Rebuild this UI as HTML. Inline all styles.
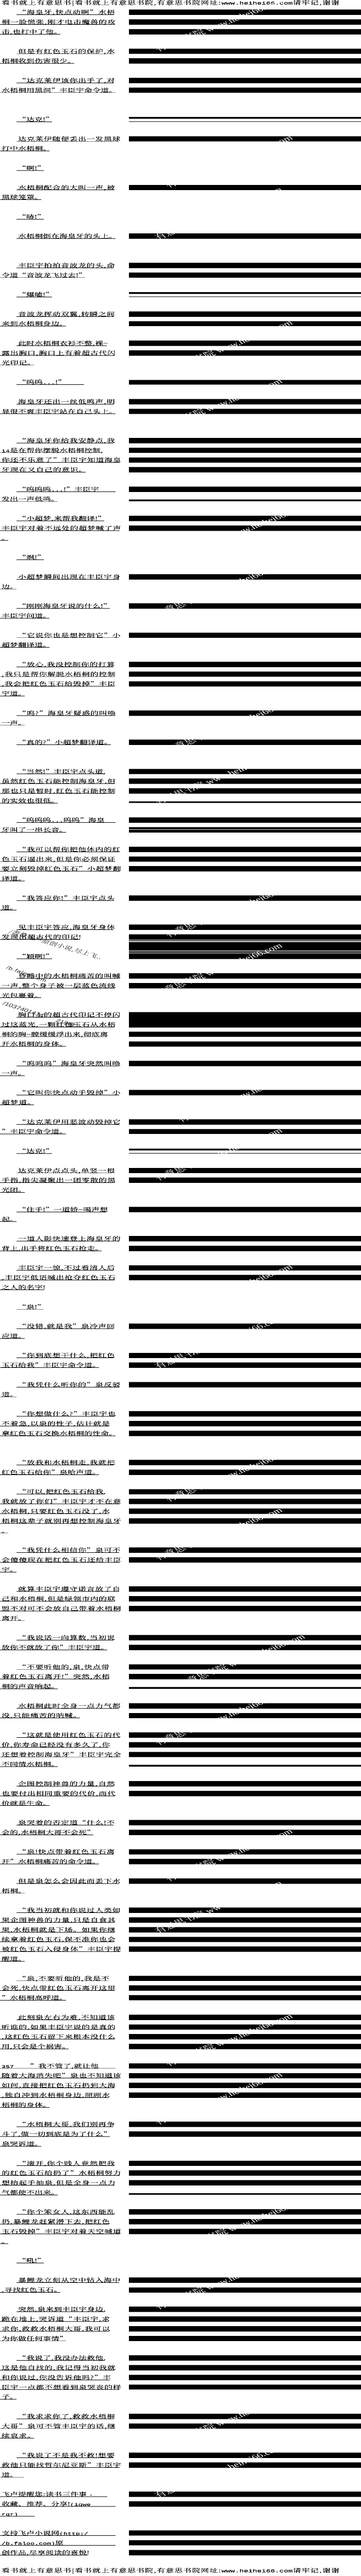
<!DOCTYPE html>
<html lang="zh-CN">
<head>
<meta charset="utf-8">
<title>有意思书院</title>
<style>
html,body{margin:0;padding:0;background:#fff}
html,body{height:5000px;overflow:hidden}
body{position:relative;width:700px}
#t,#o{transform:scale(1,.62972);transform-origin:0 0}
#t{position:absolute;left:0;top:0;width:700px;height:7940px;background:#fff;color:#000;font:16px/15px "Noto Serif CJK SC","Noto Sans CJK SC",serif;overflow:hidden}
.k{position:absolute;left:0;width:700px;height:960px;background:#fff;filter:url(#bw)}
.r{display:block;position:relative;height:30px!important;margin:0!important;padding:0!important}
u{display:inline-block;position:relative;box-sizing:border-box;height:16px;line-height:15px;padding-left:3px;text-decoration:none;white-space:nowrap;vertical-align:top}
u:after{content:"";position:absolute;left:0;right:3px;top:15px;height:1px;background:#000}
.a,.b{margin-left:32px}
.b,.c{letter-spacing:.6px}
s{text-decoration:none;font:13.33px/15px "Liberation Mono",monospace;letter-spacing:0}
b{position:absolute;left:250px;width:450px;top:0;height:16px;background:#000}
.h{position:absolute;left:0;width:700px;height:20px;padding-left:3px;box-sizing:border-box;background:#fff;white-space:nowrap;letter-spacing:1px;line-height:16px;font-size:16px;filter:url(#bw)}
.h s{font-size:14.4px;line-height:16px;letter-spacing:0}
#o{position:absolute;left:0;top:0}
</style>
</head>
<body>
<svg width="0" height="0" style="position:absolute"><filter id="bw" x="0" y="0" width="100%" height="100%" color-interpolation-filters="sRGB"><feComponentTransfer><feFuncR type="discrete" tableValues="0 0 0 0 1"/><feFuncG type="discrete" tableValues="0 0 0 0 1"/><feFuncB type="discrete" tableValues="0 0 0 0 1"/></feComponentTransfer></filter></svg>
<div id="t">
<div class="k" style="top:0">
<div class="r"></div>
<div class="r"><u class="b">“海皇牙,快点动啊”水梧</u><b></b></div>
<div class="r"><u class="c">桐一脸慌张,刚才电击魔兽的攻</u><b></b></div>
<div class="r"><u>击,也打中了他。</u><b></b></div>
<div class="r"></div>
<div class="r"><u class="b">但是有红色玉石的保护,水</u><b></b></div>
<div class="r"><u>梧桐收到伤害很少。</u><b></b></div>
<div class="r"></div>
<div class="r"><u class="b">“达克莱伊该你出手了,对</u><b></b></div>
<div class="r"><u>水梧桐用黑洞”丰臣宇命令道。</u><b></b></div>
<div class="r"></div>
<div class="r"></div>
<div class="r"><u class="a">“达克!”</u><b style="top:1px;height:5px"></b><b style="top:14px;height:1px"></b></div>
<div class="r"></div>
<div class="r"><u class="b">达克莱伊随便丢出一发黑球</u><b></b></div>
<div class="r"><u>打中水梧桐。</u></div>
<div class="r"></div>
<div class="r"><u class="a">“啊!”</u></div>
<div class="r"></div>
<div class="r"><u class="b">水梧桐配合的大叫一声,被</u><b></b></div>
<div class="r"><u>黑球笼罩。</u></div>
<div class="r"></div>
<div class="r"><u class="a">“哧!”</u></div>
<div class="r"></div>
<div class="r"><u class="a">水梧桐倒在海皇牙的头上。</u><b></b></div>
<div class="r"></div>
<div class="r"></div>
<div class="r"><u class="b">丰臣宇拍拍音波龙的头,命</u><b></b></div>
<div class="r"><u>令道“音波龙飞过去!”</u><b></b></div>
<div class="r"></div>
<div class="r"><u class="a">“爆嗑!”</u><b style="top:1px;height:5px"></b><b style="top:14px;height:1px"></b></div>
<div class="r"></div>
</div>
<div class="k" style="top:960px">
<div class="r"><u class="b">音波龙挥动双翼,转瞬之间</u><b></b></div>
<div class="r"><u>来到水梧桐身边。</u><b style="height:15px"></b></div>
<div class="r"></div>
<div class="r"><u class="a">此时水梧桐衣衫不整,裸~</u><b></b></div>
<div class="r"><u class="c">露出胸口,胸口上有着超古代闪</u><b></b></div>
<div class="r"><u class="c">光印记。</u></div>
<div class="r"></div>
<div class="r"><u class="a" style="width:134px">“呜呜<s>...</s>!”</u><b style="top:1px;height:14px"></b></div>
<div class="r"></div>
<div class="r"><u class="b">海皇牙还出一丝低鸣声,明</u><b></b></div>
<div class="r"><u>显很不爽丰臣宇站在自己头上。</u><b></b></div>
<div class="r"></div>
<div class="r"></div>
<div class="r"><u class="b">“海皇牙你给我安静点,我</u><b></b></div>
<div class="r"><u><s>14</s>是在帮你摆脱水梧桐控制,</u><b></b></div>
<div class="r"><u class="c">你还不乐意了”丰臣宇知道海皇</u><b></b></div>
<div class="r"><u class="c">牙现在又自己的意识。</u><b></b></div>
<div class="r"></div>
<div class="r"><u class="a" style="width:195px">“呜呜呜<s>...</s>!”丰臣宇</u><b></b></div>
<div class="r"><u>发出一声低鸣。</u><b style="top:10px;height:5px"></b></div>
<div class="r"></div>
<div class="r"><u class="a">“小超梦,来帮我翻译!”</u><b></b></div>
<div class="r"><u class="c">丰臣宇对着不远处的超梦喊了声</u><b></b></div>
<div class="r"><u>。</u></div>
<div class="r"></div>
<div class="r"><u class="a">“飒!”</u></div>
<div class="r"></div>
<div class="r"><u class="b">小超梦瞬间出现在丰臣宇身</u><b></b></div>
<div class="r"><u>边。</u></div>
<div class="r"></div>
<div class="r"><u class="a">“刚刚海皇牙说的什么!”</u><b></b></div>
<div class="r"><u>丰臣宇问道。</u></div>
</div>
<div class="k" style="top:1920px">
<div class="r"></div>
<div class="r"><u class="b">“它说你也是想控制它”小</u><b></b></div>
<div class="r"><u>超梦翻译道。</u></div>
<div class="r"></div>
<div class="r"><u class="b">“放心,我没控制你的打算</u><b></b></div>
<div class="r"><u class="c">,我只是帮你解脱水梧桐的控制</u><b></b></div>
<div class="r"><u class="c">,我会把红色玉石给毁掉”丰臣</u><b></b></div>
<div class="r"><u>宇道。</u></div>
<div class="r"></div>
<div class="r"><u class="b">“呜?”海皇牙疑惑的叫唤</u><b></b></div>
<div class="r"><u>一声。</u></div>
<div class="r"></div>
<div class="r"><u class="a">“真的?”小超梦翻译道。</u><b></b></div>
<div class="r"></div>
<div class="r"></div>
<div class="r"><u class="a">“当然!”丰臣宇点头道,</u><b></b></div>
<div class="r"><u class="c">虽然红色玉石能控制海皇牙,但</u><b></b></div>
<div class="r"><u class="c">那也只是暂时,红色玉石能控制</u><b></b></div>
<div class="r"><u>的实效也很低。</u><b style="top:10px;height:5px"></b></div>
<div class="r"></div>
<div class="r"><u class="a" style="width:195px">“呜呜呜<s>...</s>呜呜”海皇</u><b></b></div>
<div class="r"><u>牙叫了一串长音。</u><b style="top:0;height:3px"></b><b style="top:4px;height:2px"></b><b style="top:8px;height:8px"></b></div>
<div class="r"></div>
<div class="r"><u class="b">“我可以帮你把他体内的红</u><b></b></div>
<div class="r"><u class="c">色玉石逼出来,但是你必须保证</u><b></b></div>
<div class="r"><u class="c">要立刻毁掉红色玉石”小超梦翻</u><b></b></div>
<div class="r"><u>译道。</u></div>
<div class="r"></div>
<div class="r"><u class="b">“我答应你!”丰臣宇点头</u><b></b></div>
<div class="r"><u>道。</u></div>
<div class="r"></div>
<div class="r"><u class="b">见丰臣宇答应,海皇牙身体</u><b></b></div>
</div>
<div class="k" style="top:2880px">
<div class="r"><u class="c">发现出超古代的印记!</u><b></b><b style="top:18px;height:2px"></b></div>
<div class="r"><b style="top:-6px;height:26px"></b><b style="top:22px;height:1px"></b><b style="top:24px;height:3px"></b></div>
<div class="r"><u class="a">“颖啊!”</u><b style="top:-1px;height:17px"></b></div>
<div class="r"></div>
<div class="r"><u class="b">昏睡中的水梧桐痛苦的叫喊</u><b></b></div>
<div class="r"><u class="c">一声,整个身子被一层蓝色流线</u><b></b></div>
<div class="r"><u>光包裹着。</u></div>
<div class="r"></div>
<div class="r"><u class="b">胸口上的超古代印记不停闪</u><b style="height:47px"></b></div>
<div class="r"><u class="c">过这蓝光,一颗红色玉石从水梧</u></div>
<div class="r"><u>桐的胸~膛缓缓浮出来,彻底离</u><b></b></div>
<div class="r"><u>开水梧桐的身体。</u><b></b></div>
<div class="r"></div>
<div class="r"><u class="b">“呜呜呜”海皇牙突然叫唤</u><b></b></div>
<div class="r"><u>一声。</u></div>
<div class="r"></div>
<div class="r"><u class="b">“它叫你快点动手毁掉”小</u><b></b></div>
<div class="r"><u class="c">超梦道。</u></div>
<div class="r"></div>
<div class="r"><u class="b">“达克莱伊用恶波动毁掉它</u><b></b></div>
<div class="r"><u>”丰臣宇命令道。</u><b style="height:15px"></b></div>
<div class="r"></div>
<div class="r"><u class="a">“达克!”</u><b style="top:1px;height:5px"></b><b style="top:14px;height:1px"></b></div>
<div class="r"></div>
<div class="r"><u class="b">达克莱伊点点头,单竖一根</u><b></b></div>
<div class="r"><u class="c">手指,指尖凝聚出一团零散的黑</u><b></b></div>
<div class="r"><u>光团。</u></div>
<div class="r"></div>
<div class="r"><u class="a">“住手!”一道娇~喝声想</u><b></b></div>
<div class="r"><u>起。</u></div>
<div class="r"></div>
<div class="r"><u class="b">一道人影快速登上海皇牙的</u><b></b></div>
</div>
<div class="k" style="top:3840px">
<div class="r"><u>背上,出手将红色玉石抢走。</u><b></b></div>
<div class="r"></div>
<div class="r"><u class="b">丰臣宇一惊,不过看清人后</u><b></b></div>
<div class="r"><u class="c">,丰臣宇低语喊出抢夺红色玉石</u><b></b></div>
<div class="r"><u>之人的名字!</u></div>
<div class="r"></div>
<div class="r"><u class="a">“泉!”</u></div>
<div class="r"></div>
<div class="r"><u class="b">“没错,就是我”泉冷声回</u><b></b></div>
<div class="r"><u>应道。</u></div>
<div class="r"></div>
<div class="r"><u class="b">“你到底想干什么,把红色</u><b></b></div>
<div class="r"><u>玉石给我”丰臣宇命令道。</u><b></b></div>
<div class="r"></div>
<div class="r"><u class="b">“我凭什么听你的”泉反驳</u><b></b></div>
<div class="r"><u>道。</u></div>
<div class="r"></div>
<div class="r"><u class="b">“你想做什么?”丰臣宇也</u><b></b></div>
<div class="r"><u class="c">不着急,以泉的性子,估计就是</u><b></b></div>
<div class="r"><u>拿红色玉石交换水梧桐的性命。</u><b></b></div>
<div class="r"></div>
<div class="r"></div>
<div class="r"><u class="b">“放我和水梧桐走,我就把</u><b></b></div>
<div class="r"><u>红色玉石给你”泉哈声道。</u><b></b></div>
<div class="r"></div>
<div class="r"><u class="a">“可以,把红色玉石给我,</u><b></b></div>
<div class="r"><u class="c">我就放了你们”丰臣宇才不在意</u><b></b></div>
<div class="r"><u class="c">水梧桐,只要红色玉石没了,水</u><b></b></div>
<div class="r"><u class="c">梧桐这辈子就别再想控制海皇牙</u><b></b></div>
<div class="r"><u>。</u></div>
<div class="r"></div>
<div class="r"><u class="b">“我凭什么相信你”泉可不</u><b></b></div>
</div>
<div class="k" style="top:4800px">
<div class="r"><u class="c">会傻傻现在把红色玉石还给丰臣</u><b></b></div>
<div class="r"><u>宇。</u></div>
<div class="r"></div>
<div class="r"><u class="b">就算丰臣宇遵守诺言放了自</u><b></b></div>
<div class="r"><u class="c">己和水梧桐,但是绿领市内的联</u><b></b></div>
<div class="r"><u class="c">盟不对可不会放自己带着水梧桐</u><b></b></div>
<div class="r"><u>离开。</u></div>
<div class="r"></div>
<div class="r"><u class="b">“我说话一向算数,当初说</u><b></b></div>
<div class="r"><u>放你不就放了你”丰臣宇道。</u><b></b></div>
<div class="r"></div>
<div class="r"><u class="b">“不要听他的,泉,快点带</u><b></b></div>
<div class="r"><u class="c">着红色玉石离开!”突然,水梧</u><b></b></div>
<div class="r"><u>桐的声音响起。</u><b style="top:10px;height:5px"></b></div>
<div class="r"></div>
<div class="r"><u class="b">水梧桐此时全身一点力气都</u><b></b></div>
<div class="r"><u class="c">没,只能痛苦的呐喊。</u><b></b></div>
<div class="r"></div>
<div class="r"><u class="b">“这就是使用红色玉石的代</u><b></b></div>
<div class="r"><u class="c">价,你寿命已经没有多久了,你</u><b></b></div>
<div class="r"><u class="c">还想着控制海皇牙”丰臣宇完全</u><b></b></div>
<div class="r"><u>不同情水梧桐。</u><b style="top:10px;height:5px"></b></div>
<div class="r"></div>
<div class="r"><u class="b">企图控制神兽的力量,自然</u><b></b></div>
<div class="r"><u class="c">也要付出相同重要的代价,而代</u><b></b></div>
<div class="r"><u>价就是生命。</u></div>
<div class="r"></div>
<div class="r"><u class="b">泉哭着的否定道“什么!不</u><b></b></div>
<div class="r"><u>会的,水梧桐大哥不会死”</u><b></b></div>
<div class="r"></div>
<div class="r"><u class="b">“泉!快点带着红色玉石离</u><b></b></div>
<div class="r"><u>开”水梧桐痛苦的命令道。</u><b></b></div>
</div>
<div class="k" style="top:5760px">
<div class="r"></div>
<div class="r"><u class="b">但是泉怎么会因此而丢下水</u><b></b></div>
<div class="r"><u>梧桐。</u></div>
<div class="r"></div>
<div class="r"><u class="b">“我当初就和你说过人类如</u><b></b></div>
<div class="r"><u class="c">果企图神兽的力量,只是自食其</u><b></b></div>
<div class="r"><u class="c">果,水梧桐就是下场。如果你继</u><b></b></div>
<div class="r"><u class="c">续拿着红色玉石,保不准你也会</u><b></b></div>
<div class="r"><u class="c">被红色玉石入侵身体”丰臣宇提</u><b></b></div>
<div class="r"><u>醒道。</u></div>
<div class="r"></div>
<div class="r"><u class="b">“泉,不要听他的,我是不</u><b></b></div>
<div class="r"><u class="c">会死,快点带红色玉石离开这里</u><b></b></div>
<div class="r"><u>”水梧桐高呼道。</u><b style="height:15px"></b></div>
<div class="r"></div>
<div class="r"><u class="b">此刻泉左右为难,不知道该</u><b></b></div>
<div class="r"><u class="c">听谁的,如果丰臣宇说的是真的</u><b></b></div>
<div class="r"><u class="c">,这红色玉石留下来根本没什么</u><b></b></div>
<div class="r"><u>用,只会是个祸害。</u><b></b></div>
<div class="r"></div>
<div class="r"><u style="width:227px"><s>357</s><span style="margin-left:31px">”我不管了,就让他</span></u><b></b></div>
<div class="r"><u class="c">随着大海消失吧”泉也不知道该</u><b></b></div>
<div class="r"><u class="c">如何,直接把红色玉石扔到大海</u><b></b></div>
<div class="r"><u class="c">,独自冲到水梧桐身边,照顾水</u><b></b></div>
<div class="r"><u>梧桐的身体。</u></div>
<div class="r"></div>
<div class="r"><u class="b">“水梧桐大哥,我们别再争</u><b></b></div>
<div class="r"><u>斗了,做一切到底是为了什么”</u><b></b></div>
<div class="r"><u>泉哭诉道。</u></div>
<div class="r"></div>
<div class="r"><u class="b">“滚开,你个贱人竟然把我</u><b></b></div>
<div class="r"><u class="c">的红色玉石给扔了”水梧桐努力</u><b></b></div>
</div>
<div class="k" style="top:6720px">
<div class="r"><u class="c">想抬起手抽泉,但是全身一点力</u><b></b></div>
<div class="r"><u>气都使不出来。</u><b style="top:10px;height:5px"></b></div>
<div class="r"></div>
<div class="r"><u class="b">“你个笨女人,这东西能乱</u><b></b></div>
<div class="r"><u class="c">扔,暴鲤龙赶紧潜下去,把红色</u><b></b></div>
<div class="r"><u class="c">玉石毁掉”丰臣宇对着天空喊道</u><b></b></div>
<div class="r"><u>。</u></div>
<div class="r"></div>
<div class="r"><u class="a">“吼!”</u></div>
<div class="r"></div>
<div class="r"><u class="b">暴鲤龙立刻从空中钻入海中</u><b></b></div>
<div class="r"><u>,寻找红色玉石。</u><b style="top:1px;height:15px"></b></div>
<div class="r"></div>
<div class="r"><u class="a">突然,泉来到丰臣宇身边,</u><b></b></div>
<div class="r"><u class="c">跪在地上,哭诉道“丰臣宇,求</u><b></b></div>
<div class="r"><u class="c">求你,救救水梧桐大哥,我可以</u><b></b></div>
<div class="r"><u>为你做任何事情”</u><b></b></div>
<div class="r"></div>
<div class="r"><u class="a">“我说了,我没办法救他,</u><b></b></div>
<div class="r"><u class="c">这是他自找的,我记得当初我就</u><b></b></div>
<div class="r"><u class="c">和你说过,你没告诉他吗?”丰</u><b></b></div>
<div class="r"><u class="c">臣宇一点都不想看到泉哭丧的样</u><b style="height:15px"></b></div>
<div class="r"><u>子。</u></div>
<div class="r"></div>
<div class="r"><u class="b">“我求求你了,救救水梧桐</u><b></b></div>
<div class="r"><u class="c">大哥”泉可不管丰臣宇的话,继</u><b></b></div>
<div class="r"><u class="c">续哀求。</u></div>
<div class="r"></div>
<div class="r"><u class="b">“我说了不是我不救!想要</u><b></b></div>
<div class="r"><u class="c">救他只能找哲尔尼亚斯”丰臣宇</u><b></b></div>
<div class="r"><u style="width:50px">道。</u></div>
<div class="r"></div>
</div>
<div class="k" style="top:7680px;height:230px">
<div class="r"><u style="width:211px">飞卢提醒您:读书三件事 <s>-</s></u><b></b></div>
<div class="r"><u style="width:227px">收藏、推荐、分享!<s>(igwe</s></u><b></b></div>
<div class="r"><u style="width:70px"><s>rgr)</s></u></div>
<div class="r"></div>
<div class="r"><u style="width:227px">支持飞卢小说网<s>(http:/</s></u><b style="height:15px"></b></div>
<div class="r"><u style="width:227px"><s>/b.faloo.com)</s>原</u><b style="height:15px"></b></div>
<div class="r"><u>创作品,尽享阅读的喜悦!</u><b></b></div>
</div>
<div class="h" style="top:0">看书就上有意思书|看书就上有意思书院,有意思书院网址:<s>www.heihei66.com</s>请牢记,谢谢</div>
<div class="h" style="top:7915px">看书就上有意思书|看书就上有意思书院,有意思书院网址:<s>www.heihei66.com</s>请牢记,谢谢</div>
</div>
<svg id="o" width="700" height="7940" viewBox="0 0 700 7940" xmlns="http://www.w3.org/2000/svg">
<g fill="#222" font-family="'Noto Serif CJK SC',serif">
<text transform="translate(16,2875) rotate(24.6)" font-size="16">/書叠飞卢原创小说,尽上飞..</text>
<text transform="translate(11,2985) rotate(29)" font-size="14" font-family="'Liberation Sans',sans-serif" letter-spacing="1">/b.faloo.com</text>
<text transform="translate(4,3096) rotate(27)" font-size="15" font-family="'Liberation Sans','Noto Sans CJK SC',sans-serif">/1037401414<tspan dx="28">219章</tspan></text>
</g>
<g fill="#fff" font-size="22" font-family="'Liberation Serif','Noto Serif CJK SC',serif">
<text transform="translate(306,160) rotate(-32)">有意思书院 www.heihei66.com</text>
<text transform="translate(326,580) rotate(-32)">有意思书院 www.heihei66.com</text>
<text transform="translate(306,740) rotate(-32)">有意思书院 www.heihei66.com</text>
<text transform="translate(326,1150) rotate(-32)">有意思书院 www.heihei66.com</text>
<text transform="translate(306,1330) rotate(-32)">有意思书院 www.heihei66.com</text>
<text transform="translate(350,1720) rotate(-32)">有意思书院 www.heihei66.com</text>
<text transform="translate(306,1900) rotate(-32)">有意思书院 www.heihei66.com</text>
<text transform="translate(326,2320) rotate(-32)">有意思书院 www.heihei66.com</text>
<text transform="translate(306,2480) rotate(-32)">有意思书院 www.heihei66.com</text>
<text transform="translate(326,2890) rotate(-32)">有意思书院 www.heihei66.com</text>
<text transform="translate(306,3070) rotate(-32)">有意思书院 www.heihei66.com</text>
<text transform="translate(350,3460) rotate(-32)">有意思书院 www.heihei66.com</text>
<text transform="translate(306,3640) rotate(-32)">有意思书院 www.heihei66.com</text>
<text transform="translate(326,4060) rotate(-32)">有意思书院 www.heihei66.com</text>
<text transform="translate(306,4220) rotate(-32)">有意思书院 www.heihei66.com</text>
<text transform="translate(326,4630) rotate(-32)">有意思书院 www.heihei66.com</text>
<text transform="translate(306,4810) rotate(-32)">有意思书院 www.heihei66.com</text>
<text transform="translate(350,5200) rotate(-32)">有意思书院 www.heihei66.com</text>
<text transform="translate(306,5380) rotate(-32)">有意思书院 www.heihei66.com</text>
<text transform="translate(326,5800) rotate(-32)">有意思书院 www.heihei66.com</text>
<text transform="translate(306,5960) rotate(-32)">有意思书院 www.heihei66.com</text>
<text transform="translate(326,6370) rotate(-32)">有意思书院 www.heihei66.com</text>
<text transform="translate(306,6550) rotate(-32)">有意思书院 www.heihei66.com</text>
<text transform="translate(350,6940) rotate(-32)">有意思书院 www.heihei66.com</text>
<text transform="translate(306,7120) rotate(-32)">有意思书院 www.heihei66.com</text>
<text transform="translate(326,7540) rotate(-32)">有意思书院 www.heihei66.com</text>
<text transform="translate(306,7700) rotate(-32)">有意思书院 www.heihei66.com</text>
</g>
</svg>
</body>
</html>
